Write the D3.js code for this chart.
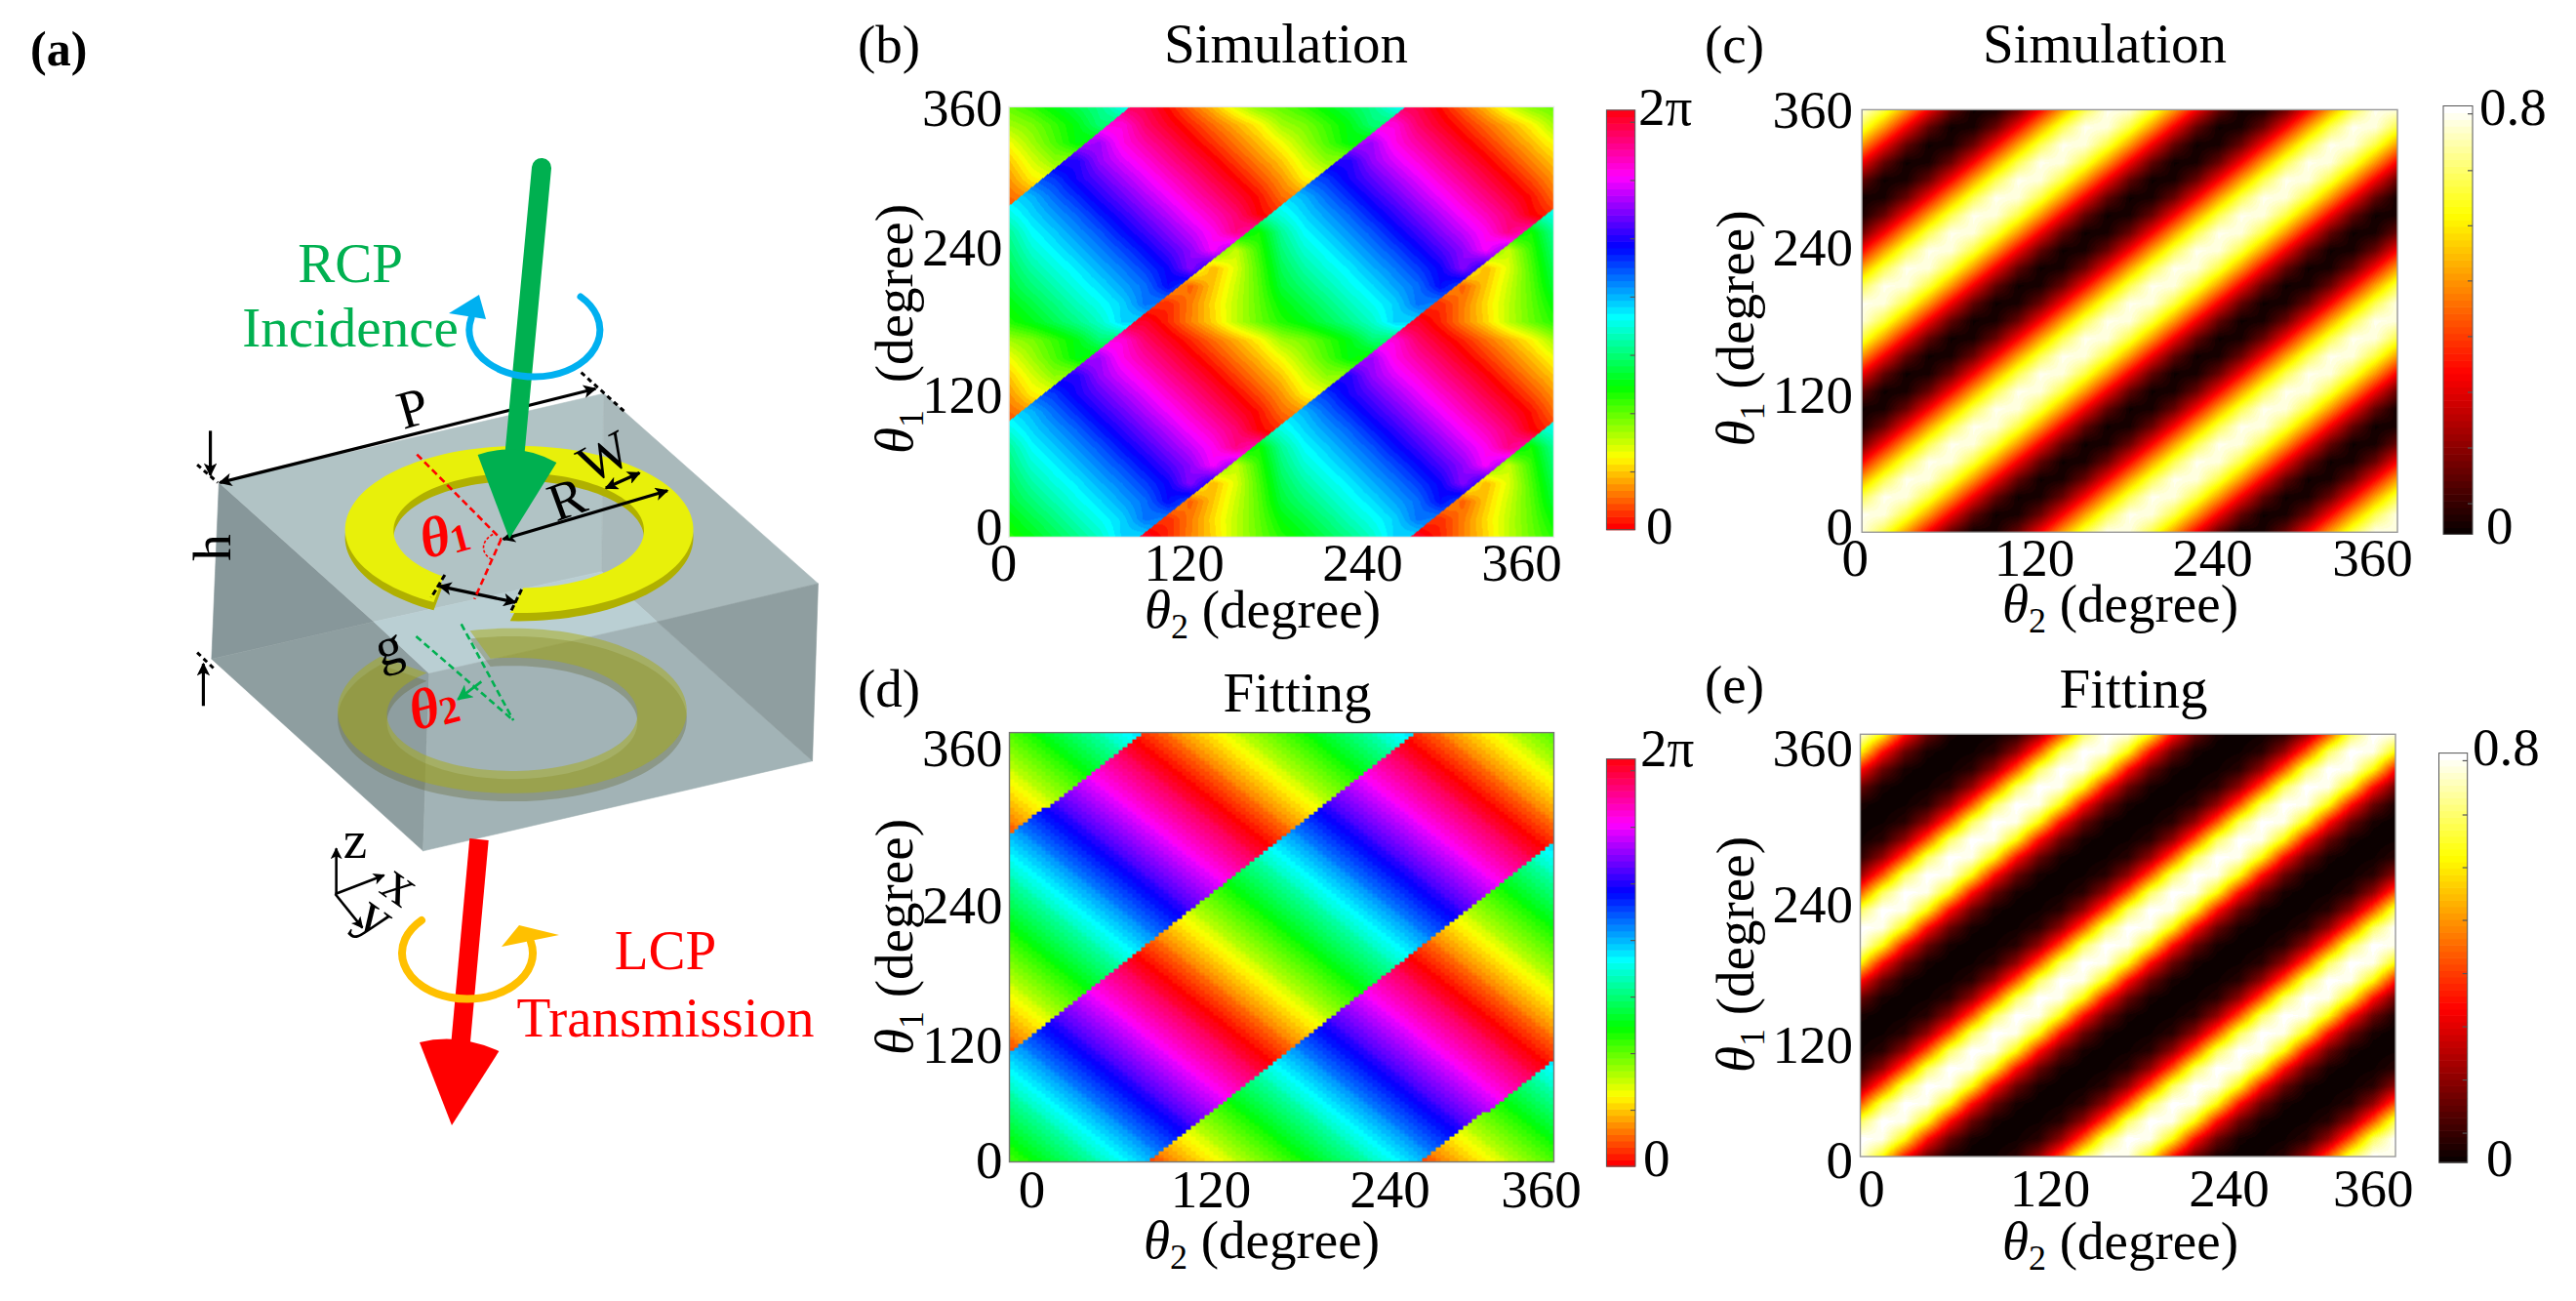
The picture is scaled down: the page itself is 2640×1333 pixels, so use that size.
<!DOCTYPE html>
<html><head><meta charset="utf-8">
<script src="https://cdn.jsdelivr.net/npm/d3@7/dist/d3.min.js"></script>
<style>html,body{margin:0;padding:0;background:#fff}svg{display:block}</style></head>
<body><svg id="fig" width="2640" height="1333"></svg>
<script>
// ---------- values ----------
const tickLabels=[0,120,240,360];
const gridStep=15; // degrees between rows / columns of every table below
// (b) simulated phase, degrees; rows theta1 = 0..360, columns theta2 = 0..360
const phaseSim=[
[115,127,141,155,170,193,352,11,33,53,78,98,115,127,141,155,170,193,352,11,33,53,78,98,115],
[124,138,152,167,180,193,216,12,32,55,78,100,124,138,152,167,180,193,216,12,32,55,78,100,124],
[135,150,164,178,190,204,217,242,25,50,75,102,135,150,164,178,190,204,217,242,25,50,75,102,135],
[142,161,175,187,201,214,229,245,275,45,70,105,142,161,175,187,201,214,229,245,275,45,70,105,142],
[150,172,185,198,212,226,242,259,276,302,75,110,150,172,185,198,212,226,242,259,276,302,75,110,150],
[158,182,195,209,223,240,256,273,289,306,332,118,158,182,195,209,223,240,256,273,289,306,332,118,158],
[176,192,206,220,237,253,270,286,303,319,336,2,176,192,206,220,237,253,270,286,303,319,336,2,176],
[28,200,218,234,251,267,284,300,317,333,350,6,28,200,218,234,251,267,284,300,317,333,350,6,28],
[38,60,230,248,264,281,297,314,330,347,3,20,38,60,230,248,264,281,297,314,330,347,3,20,38],
[50,72,90,250,278,295,311,328,344,0,17,34,50,72,90,250,278,295,311,328,344,0,17,34,50],
[65,85,105,125,280,308,325,341,358,14,31,47,65,85,105,125,280,308,325,341,358,14,31,47,65],
[85,94,110,127,150,310,338,355,11,28,44,61,85,94,110,127,150,310,338,355,11,28,44,61,85],
[115,127,141,155,170,193,352,11,33,53,78,98,115,127,141,155,170,193,352,11,33,53,78,98,115],
[124,138,152,167,180,193,216,12,32,55,78,100,124,138,152,167,180,193,216,12,32,55,78,100,124],
[135,150,164,178,190,204,217,242,25,50,75,102,135,150,164,178,190,204,217,242,25,50,75,102,135],
[142,161,175,187,201,214,229,245,275,45,70,105,142,161,175,187,201,214,229,245,275,45,70,105,142],
[150,172,185,198,212,226,242,259,276,302,75,110,150,172,185,198,212,226,242,259,276,302,75,110,150],
[158,182,195,209,223,240,256,273,289,306,332,118,158,182,195,209,223,240,256,273,289,306,332,118,158],
[176,192,206,220,237,253,270,286,303,319,336,2,176,192,206,220,237,253,270,286,303,319,336,2,176],
[28,200,218,234,251,267,284,300,317,333,350,6,28,200,218,234,251,267,284,300,317,333,350,6,28],
[38,60,230,248,264,281,297,314,330,347,3,20,38,60,230,248,264,281,297,314,330,347,3,20,38],
[50,72,90,250,278,295,311,328,344,0,17,34,50,72,90,250,278,295,311,328,344,0,17,34,50],
[65,85,105,125,280,308,325,341,358,14,31,47,65,85,105,125,280,308,325,341,358,14,31,47,65],
[85,94,110,127,150,310,338,355,11,28,44,61,85,94,110,127,150,310,338,355,11,28,44,61,85],
[100,112,126,140,155,178,345,5,27,47,72,92,100,112,126,140,155,178,345,5,27,47,72,92,100]];
// phase-jump lines of (b): [theta2, theta1] end points
const jumpsSim=[[[265,0],[360,97]],[[86,0],[360,275]],[[0,97],[262,360]],[[0,277],[80,360]]];
const jumpSizeSim=198;
// (c) simulated transmission, percent
const transSim=[
[77,65,48,29,11,1,2,12,30,49,66,78,77,65,48,29,11,1,2,12,30,49,66,78,77],
[78,77,65,48,29,11,1,2,12,30,49,66,78,77,65,48,29,11,1,2,12,30,49,66,78],
[66,78,77,65,48,29,11,1,2,12,30,49,66,78,77,65,48,29,11,1,2,12,30,49,66],
[49,66,78,77,65,48,29,11,1,2,12,30,49,66,78,77,65,48,29,11,1,2,12,30,49],
[30,49,66,78,77,65,48,29,11,1,2,12,30,49,66,78,77,65,48,29,11,1,2,12,30],
[12,30,49,66,78,77,65,48,29,11,1,2,12,30,49,66,78,77,65,48,29,11,1,2,12],
[2,12,30,49,66,78,77,65,48,29,11,1,2,12,30,49,66,78,77,65,48,29,11,1,2],
[1,2,12,30,49,66,78,77,65,48,29,11,1,2,12,30,49,66,78,77,65,48,29,11,1],
[11,1,2,12,30,49,66,78,77,65,48,29,11,1,2,12,30,49,66,78,77,65,48,29,11],
[29,11,1,2,12,30,49,66,78,77,65,48,29,11,1,2,12,30,49,66,78,77,65,48,29],
[48,29,11,1,2,12,30,49,66,78,77,65,48,29,11,1,2,12,30,49,66,78,77,65,48],
[65,48,29,11,1,2,12,30,49,66,78,77,65,48,29,11,1,2,12,30,49,66,78,77,65],
[77,65,48,29,11,1,2,12,30,49,66,78,77,65,48,29,11,1,2,12,30,49,66,78,77],
[78,77,65,48,29,11,1,2,12,30,49,66,78,77,65,48,29,11,1,2,12,30,49,66,78],
[66,78,77,65,48,29,11,1,2,12,30,49,66,78,77,65,48,29,11,1,2,12,30,49,66],
[49,66,78,77,65,48,29,11,1,2,12,30,49,66,78,77,65,48,29,11,1,2,12,30,49],
[30,49,66,78,77,65,48,29,11,1,2,12,30,49,66,78,77,65,48,29,11,1,2,12,30],
[12,30,49,66,78,77,65,48,29,11,1,2,12,30,49,66,78,77,65,48,29,11,1,2,12],
[2,12,30,49,66,78,77,65,48,29,11,1,2,12,30,49,66,78,77,65,48,29,11,1,2],
[1,2,12,30,49,66,78,77,65,48,29,11,1,2,12,30,49,66,78,77,65,48,29,11,1],
[11,1,2,12,30,49,66,78,77,65,48,29,11,1,2,12,30,49,66,78,77,65,48,29,11],
[29,11,1,2,12,30,49,66,78,77,65,48,29,11,1,2,12,30,49,66,78,77,65,48,29],
[48,29,11,1,2,12,30,49,66,78,77,65,48,29,11,1,2,12,30,49,66,78,77,65,48],
[65,48,29,11,1,2,12,30,49,66,78,77,65,48,29,11,1,2,12,30,49,66,78,77,65],
[77,65,48,29,11,1,2,12,30,49,66,78,77,65,48,29,11,1,2,12,30,49,66,78,77]];
// (d) fitted phase, degrees
const phaseFit=[
[106,121,136,151,166,181,196,31,46,61,76,91,106,121,136,151,166,181,196,31,46,61,76,91,106],
[121,136,151,166,181,196,211,226,61,76,91,106,121,136,151,166,181,196,211,226,61,76,91,106,121],
[136,151,166,181,196,211,226,241,256,91,106,121,136,151,166,181,196,211,226,241,256,91,106,121,136],
[151,166,181,196,211,226,241,256,271,286,121,136,151,166,181,196,211,226,241,256,271,286,121,136,151],
[166,181,196,211,226,241,256,271,286,301,316,151,166,181,196,211,226,241,256,271,286,301,316,151,166],
[181,196,211,226,241,256,271,286,301,316,331,346,181,196,211,226,241,256,271,286,301,316,331,346,181],
[196,211,226,241,256,271,286,301,316,331,346,1,16,211,226,241,256,271,286,301,316,331,346,1,16],
[31,226,241,256,271,286,301,316,331,346,1,16,31,46,241,256,271,286,301,316,331,346,1,16,31],
[46,61,256,271,286,301,316,331,346,1,16,31,46,61,76,271,286,301,316,331,346,1,16,31,46],
[61,76,91,286,301,316,331,346,1,16,31,46,61,76,91,106,301,316,331,346,1,16,31,46,61],
[76,91,106,121,316,331,346,1,16,31,46,61,76,91,106,121,136,331,346,1,16,31,46,61,76],
[91,106,121,136,151,346,1,16,31,46,61,76,91,106,121,136,151,166,1,16,31,46,61,76,91],
[106,121,136,151,166,181,16,31,46,61,76,91,106,121,136,151,166,181,196,31,46,61,76,91,106],
[121,136,151,166,181,196,211,46,61,76,91,106,121,136,151,166,181,196,211,226,61,76,91,106,121],
[136,151,166,181,196,211,226,241,76,91,106,121,136,151,166,181,196,211,226,241,256,91,106,121,136],
[151,166,181,196,211,226,241,256,271,106,121,136,151,166,181,196,211,226,241,256,271,286,121,136,151],
[166,181,196,211,226,241,256,271,286,301,136,151,166,181,196,211,226,241,256,271,286,301,316,151,166],
[181,196,211,226,241,256,271,286,301,316,331,166,181,196,211,226,241,256,271,286,301,316,331,346,181],
[196,211,226,241,256,271,286,301,316,331,346,1,196,211,226,241,256,271,286,301,316,331,346,1,16],
[31,226,241,256,271,286,301,316,331,346,1,16,31,226,241,256,271,286,301,316,331,346,1,16,31],
[46,61,256,271,286,301,316,331,346,1,16,31,46,61,256,271,286,301,316,331,346,1,16,31,46],
[61,76,91,286,301,316,331,346,1,16,31,46,61,76,91,286,301,316,331,346,1,16,31,46,61],
[76,91,106,121,316,331,346,1,16,31,46,61,76,91,106,121,316,331,346,1,16,31,46,61,76],
[91,106,121,136,151,346,1,16,31,46,61,76,91,106,121,136,151,346,1,16,31,46,61,76,91],
[106,121,136,151,166,181,16,31,46,61,76,91,106,121,136,151,166,181,16,31,46,61,76,91,106]];
const jumpsFit=[[[272,0],[360,86]],[[91,0],[360,269]],[[0,92],[270,360]],[[0,274],[90,360]]];
const jumpSizeFit=180;
// (e) fitted transmission, percent
const transFit=[
[78,60,32,12,2,0,1,4,17,40,67,80,78,60,32,12,2,0,1,4,17,40,67,80,78],
[80,78,60,32,12,2,0,1,4,17,40,67,80,78,60,32,12,2,0,1,4,17,40,67,80],
[67,80,78,60,32,12,2,0,1,4,17,40,67,80,78,60,32,12,2,0,1,4,17,40,67],
[40,67,80,78,60,32,12,2,0,1,4,17,40,67,80,78,60,32,12,2,0,1,4,17,40],
[17,40,67,80,78,60,32,12,2,0,1,4,17,40,67,80,78,60,32,12,2,0,1,4,17],
[4,17,40,67,80,78,60,32,12,2,0,1,4,17,40,67,80,78,60,32,12,2,0,1,4],
[1,4,17,40,67,80,78,60,32,12,2,0,1,4,17,40,67,80,78,60,32,12,2,0,1],
[0,1,4,17,40,67,80,78,60,32,12,2,0,1,4,17,40,67,80,78,60,32,12,2,0],
[2,0,1,4,17,40,67,80,78,60,32,12,2,0,1,4,17,40,67,80,78,60,32,12,2],
[12,2,0,1,4,17,40,67,80,78,60,32,12,2,0,1,4,17,40,67,80,78,60,32,12],
[32,12,2,0,1,4,17,40,67,80,78,60,32,12,2,0,1,4,17,40,67,80,78,60,32],
[60,32,12,2,0,1,4,17,40,67,80,78,60,32,12,2,0,1,4,17,40,67,80,78,60],
[78,60,32,12,2,0,1,4,17,40,67,80,78,60,32,12,2,0,1,4,17,40,67,80,78],
[80,78,60,32,12,2,0,1,4,17,40,67,80,78,60,32,12,2,0,1,4,17,40,67,80],
[67,80,78,60,32,12,2,0,1,4,17,40,67,80,78,60,32,12,2,0,1,4,17,40,67],
[40,67,80,78,60,32,12,2,0,1,4,17,40,67,80,78,60,32,12,2,0,1,4,17,40],
[17,40,67,80,78,60,32,12,2,0,1,4,17,40,67,80,78,60,32,12,2,0,1,4,17],
[4,17,40,67,80,78,60,32,12,2,0,1,4,17,40,67,80,78,60,32,12,2,0,1,4],
[1,4,17,40,67,80,78,60,32,12,2,0,1,4,17,40,67,80,78,60,32,12,2,0,1],
[0,1,4,17,40,67,80,78,60,32,12,2,0,1,4,17,40,67,80,78,60,32,12,2,0],
[2,0,1,4,17,40,67,80,78,60,32,12,2,0,1,4,17,40,67,80,78,60,32,12,2],
[12,2,0,1,4,17,40,67,80,78,60,32,12,2,0,1,4,17,40,67,80,78,60,32,12],
[32,12,2,0,1,4,17,40,67,80,78,60,32,12,2,0,1,4,17,40,67,80,78,60,32],
[60,32,12,2,0,1,4,17,40,67,80,78,60,32,12,2,0,1,4,17,40,67,80,78,60],
[78,60,32,12,2,0,1,4,17,40,67,80,78,60,32,12,2,0,1,4,17,40,67,80,78]];
const phaseBarTicks=[50,100,150,200,250,300,350];
const transBarTicks=[5.8,16.2,26.6,37,47.4,57.7,68,78.6];
const hsvStops=["#ff0000","#ffff00","#00ff00","#00ffff","#0000ff","#ff00ff","#ff0018"];
const hotStops=["#0b0000","#ff0000","#ffff00","#ffffff"];
const LEVELS=64;

const phaseLUT=d3.range(LEVELS).map(d3.scaleLinear().domain([0,LEVELS/6,2*LEVELS/6,3*LEVELS/6,4*LEVELS/6,5*LEVELS/6,LEVELS-1]).range(hsvStops)).map(c=>d3.rgb(c));
const hotLUT=d3.range(LEVELS).map(d3.scaleLinear().domain([0,.375*(LEVELS-1),.75*(LEVELS-1),LEVELS-1]).range(hotStops)).map(c=>d3.rgb(c));
const phaseColor=d3.scaleQuantize().domain([0,360]).range(phaseLUT);
const hotColor=d3.scaleQuantize().domain([0,80]).range(hotLUT);

const svg=d3.select("#fig");
const SERIF="'Liberation Serif','Times New Roman',serif";
const FS=55;

function label(g,x,y,str,o={}){
  return g.append("text").attr("x",x).attr("y",y).attr("font-family",SERIF).attr("font-size",o.size||FS)
    .attr("text-anchor",o.anchor||"start").attr("fill",o.fill||"#000").attr("font-weight",o.weight||"normal").text(str);
}
function thetaLabel(g,x,y,sub,rot,gap){
  const t=g.append("text").attr("font-family",SERIF).attr("font-size",FS).attr("text-anchor","middle")
    .attr("transform",`translate(${x},${y})`+(rot?` rotate(${rot})`:""));
  t.append("tspan").attr("font-style","italic").text("\u03b8");
  t.append("tspan").attr("font-size",36).attr("dy",11).text(sub);
  t.append("tspan").attr("dy",-11).attr("dx",gap||0).text(" (degree)");
}

// Paint one table through the panel scales.  Each pixel is shaded from the four surrounding table entries.
function paint(p){
  const W=Math.round(p.x[1]-p.x[0]),H=Math.round(p.y[0]-p.y[1]);
  const cv=document.createElement("canvas");cv.width=W;cv.height=H;
  const ctx=cv.getContext("2d"),img=ctx.createImageData(W,H);
  const sx=d3.scaleLinear().domain([0,W]).range([0,360]),sy=d3.scaleLinear().domain([H,0]).range([0,360]);
  const lines=(p.jumps||[]).map(l=>d3.scaleLinear().domain([l[0][0],l[1][0]]).range([l[0][1],l[1][1]]));
  const strip=(a,b)=>lines.reduce((n,f)=>n+(b>f(a)?1:0),0);
  const n=p.table.length-1;
  for(let py=0;py<H;py++)for(let px=0;px<W;px++){
    let a=sx(px+.5),b=sy(py+.5);
    if(p.cell){a=(Math.floor(a/p.cell)+.5)*p.cell;b=(Math.floor(b/p.cell)+.5)*p.cell;}
    const fi=Math.min(n-1e-6,a/gridStep),fj=Math.min(n-1e-6,b/gridStep);
    const i=Math.floor(fi),j=Math.floor(fj),u=fi-i,v=fj-j;
    let c;
    if(p.jumps){
      const k=strip(a,b);
      const val=(ii,jj)=>p.table[jj][ii]+(k-strip(ii*gridStep,jj*gridStep))*p.jump;
      const v0=val(i,j),rel=q=>((q-v0)%360+540)%360-180;
      const r=(1-u)*v*rel(val(i,j+1))+u*(1-v)*rel(val(i+1,j))+u*v*rel(val(i+1,j+1));
      c=phaseColor(((v0+r)%360+360)%360);
    }else{
      const t=p.table;
      c=hotColor((1-u)*(1-v)*t[j][i]+u*(1-v)*t[j][i+1]+(1-u)*v*t[j+1][i]+u*v*t[j+1][i+1]);
    }
    const o=4*(py*W+px);img.data[o]=c.r;img.data[o+1]=c.g;img.data[o+2]=c.b;img.data[o+3]=255;
  }
  ctx.putImageData(img,0,0);
  return cv.toDataURL();
}

const panels=[
 {id:"(b)",lx:879,ly:64,title:"Simulation",tx:1318,ty:64,table:phaseSim,jumps:jumpsSim,jump:jumpSizeSim,
  x:[1034,1592.5],y:[550.4,109.4],xl:[1028,1213,1396,1559],xb:595,yr:1027.6,yb:[557,422,271,128],
  xlab:[1294,643],ylab:[934.6,337],ygap:14,cb:{x:[1646.4,1675.7],y:[542.7,112.8],top:"2\u03c0",tl:[1679,128],bl:[1687,557]},border:"#e8e8e8"},
 {id:"(c)",lx:1747,ly:64,title:"Simulation",tx:2157,ty:64,table:transSim,
  x:[1908.2,2457],y:[545.3,112.4],xl:[1900.7,2084.4,2267,2431],xb:590,yr:1899,yb:[557,422,271,130],
  xlab:[2173,637],ylab:[1797,336.5],cb:{x:[2504,2534],y:[547.4,108.5],top:"0.8",tl:[2541,128],bl:[2548,557]},border:"#999"},
 {id:"(d)",lx:879,ly:724,title:"Fitting",tx:1329.6,ty:728.7,table:phaseFit,jumps:jumpsFit,jump:jumpSizeFit,cell:3,
  x:[1034.5,1592.5],y:[1190.5,750.6],xl:[1057,1240.6,1424,1579],xb:1237,yr:1027.6,yb:[1206,1088,945,784],
  xlab:[1293,1289],ylab:[934.6,960],cb:{x:[1646.4,1676],y:[1195,777.6],top:"2\u03c0",tl:[1681,784.5],bl:[1684,1205]},border:"#777"},
 {id:"(e)",lx:1747,ly:720,title:"Fitting",tx:2186.6,ty:725,table:transFit,
  x:[1906.5,2455],y:[1185,752.3],xl:[1917.4,2100.5,2284,2431.7],xb:1236,yr:1899,yb:[1206,1088,944,784],
  xlab:[2173,1290],ylab:[1797,978],cb:{x:[2499.5,2528.7],y:[1191,771.6],top:"0.8",tl:[2534,783.6],bl:[2548,1205]},border:"#999"}
];

panels.forEach(p=>{
  const g=svg.append("g");
  const x=d3.scaleLinear().domain([0,360]).range(p.x),y=d3.scaleLinear().domain([0,360]).range(p.y);
  g.append("image").attr("x",p.x[0]).attr("y",p.y[1]).attr("width",p.x[1]-p.x[0]).attr("height",p.y[0]-p.y[1])
    .attr("preserveAspectRatio","none").attr("href",paint(p));
  g.append("rect").attr("x",p.x[0]).attr("y",p.y[1]).attr("width",p.x[1]-p.x[0]).attr("height",p.y[0]-p.y[1])
    .attr("fill","none").attr("stroke",p.border).attr("stroke-width",1.4);
  // axes
  const ax=g.append("g").attr("transform",`translate(0,${p.y[0]})`)
    .call(d3.axisBottom(x).tickValues(tickLabels).tickSize(0).tickFormat(d3.format("d")));
  const ay=g.append("g").attr("transform",`translate(${p.x[0]},0)`)
    .call(d3.axisLeft(y).tickValues(tickLabels).tickSize(0).tickFormat(d3.format("d")));
  [ax,ay].forEach(a=>{a.select(".domain").remove();a.attr("font-family",SERIF).attr("font-size",FS);a.selectAll("text").attr("fill","#000").attr("dy",0);});
  ax.selectAll("text").attr("y",p.xb-p.y[0]).attr("x",(d,i)=>p.xl[i]-x(d));
  ay.selectAll("text").attr("x",p.yr-p.x[0]).attr("y",(d,i)=>p.yb[i]-y(d));
  // titles
  label(g,p.lx,p.ly,p.id);
  label(g,p.tx,p.ty,p.title,{anchor:"middle",size:57});
  thetaLabel(g,p.xlab[0],p.xlab[1],"2",0);
  thetaLabel(g,p.ylab[0],p.ylab[1],"1",-90,p.ygap);
  // colour bar
  const isPhase=!!p.jumps,cb=p.cb,dom=isPhase?360:80,lut=isPhase?phaseColor:hotColor;
  const by=d3.scaleLinear().domain([0,dom]).range(cb.y);
  g.append("g").selectAll("rect").data(d3.range(LEVELS)).join("rect")
    .attr("x",cb.x[0]).attr("width",cb.x[1]-cb.x[0])
    .attr("y",d=>by((d+1)*dom/LEVELS)).attr("height",(cb.y[0]-cb.y[1])/LEVELS+.6)
    .attr("fill",d=>lut((d+.5)*dom/LEVELS).formatRgb());
  g.append("rect").attr("x",cb.x[0]).attr("y",cb.y[1]).attr("width",cb.x[1]-cb.x[0]).attr("height",cb.y[0]-cb.y[1])
    .attr("fill","none").attr("stroke","#555").attr("stroke-width",1);
  const bt=g.append("g").attr("transform",`translate(${cb.x[1]},0)`)
    .call(d3.axisLeft(by).tickValues(isPhase?phaseBarTicks:transBarTicks).tickSize(5).tickFormat(""));
  bt.select(".domain").remove();bt.selectAll("line").attr("stroke","#555").attr("stroke-width",1.2);
  label(g,cb.tl[0],cb.tl[1],cb.top);
  label(g,cb.bl[0],cb.bl[1],"0");
});

// ---------- panel (a): schematic ----------
const A=svg.append("g");
const PX=d3.scaleLinear().domain([0,2376]).range([200,1200]),PY=d3.scaleLinear().domain([0,3015]).range([380,1380]);
const pt=d=>[PX(d[0]),PY(d[1])];
const line=d3.line();
label(A,31,67,"(a)",{weight:"bold",size:50});
const faces=[
 {c:"#87979a",p:[[58,345],[435,775],[40,890]]},
 {c:"#8e9ea0",p:[[40,890],[435,775],[570,935],[555,1483]]},
 {c:"#b1c3c5",p:[[58,345],[995,70],[990,620],[435,775]]},
 {c:"#a9b9bb",p:[[995,70],[1517,657],[1125,775],[990,620]]},
 {c:"#bacfd3",p:[[435,775],[990,620],[1125,775],[570,935]]},
 {c:"#a2b3b6",p:[[570,935],[1125,775],[1503,1205],[555,1483]]},
 {c:"#8f9ea0",p:[[1125,775],[1517,657],[1503,1205]]}];
A.selectAll(".face").data(faces).join("path").attr("class","face").attr("fill",d=>d.c)
  .attr("stroke",d=>d.c).attr("stroke-width",.6).attr("d",d=>line(d.p.map(pt))+"Z");
function ring(o,i,tA,tB,tC,tD,dy){
  const N=120,pts=[];
  d3.range(N+1).forEach(k=>{const t=(tA+(tB-tA)*k/N)*Math.PI/180;pts.push(pt([o[0]+o[2]*Math.cos(t),o[1]+dy+o[3]*Math.sin(t)]));});
  d3.range(N+1).forEach(k=>{const t=(tC+(tD-tC)*k/N)*Math.PI/180;pts.push(pt([i[0]+i[2]*Math.cos(t),i[1]+dy+i[3]*Math.sin(t)]));});
  return line(pts)+"Z";
}
// lower ring
const lo=[772,1050,425,255],li=[772,1061,305,175];
A.append("path").attr("d",ring(lo,li,-104,221,227,-100,25)).attr("fill","rgba(90,90,30,.3)");
A.append("path").attr("d",ring(lo,li,-104,221,227,-100,0)).attr("fill","rgba(168,172,20,.5)");
// upper ring
const uo=[789,490,424,258],ui=[788,493,305,178];
A.append("path").attr("d",ring(uo,ui,93,-240.6,-233,88,25)).attr("fill","#b0b000");
A.append("path").attr("d",ring(uo,ui,93,-240.6,-233,88,0)).attr("fill","#e8f00a");
// dimension arrows
const defs=svg.append("defs");
const mk=(id,c,s)=>defs.append("marker").attr("id",id).attr("viewBox","0 0 10 10").attr("refX",9).attr("refY",5)
  .attr("markerUnits","userSpaceOnUse").attr("markerWidth",s).attr("markerHeight",s*.8).attr("orient","auto-start-reverse")
  .append("path").attr("d","M0,0L10,5L0,10L2.5,5Z").attr("fill",c);
mk("ab","#000",17);mk("ag","#00b050",20);
const arrows=[[[60,345],[975,55],1],[[750,520],[1150,370],1],[[1000,362],[1082,315],1],[[595,665],[780,715],1],[[37,185],[37,322],0],[[20,1035],[20,905],0]];
arrows.forEach(d=>{A.append("path").attr("d",line([pt(d[0]),pt(d[1])])).attr("stroke","#000").attr("stroke-width",3.2).attr("fill","none")
  .attr("marker-end","url(#ab)").attr("marker-start",d[2]?"url(#ab)":null);});
const dashes=[
 {p:[[5,290],[55,345]],c:"#000",w:3,a:"5,4"},{p:[[940,5],[1045,125]],c:"#000",w:3,a:"5,4"},{p:[[5,870],[50,925]],c:"#000",w:3,a:"5,4"},
 {p:[[608,630],[575,700]],c:"#000",w:3,a:"6,3"},{p:[[795,675],[768,745]],c:"#000",w:3,a:"6,3"},
 {p:[[540,258],[745,520]],c:"#ff0000",w:2.6,a:"7,4"},{p:[[745,520],[680,705]],c:"#ff0000",w:2.6,a:"7,4"},
 {p:[[538,820],[775,1080]],c:"#00b050",w:2.6,a:"7,4"},{p:[[648,782],[775,1080]],c:"#00b050",w:2.6,a:"7,4"}];
dashes.forEach(d=>A.append("path").attr("d",line(d.p.map(pt))).attr("stroke",d.c).attr("stroke-width",d.w).attr("stroke-dasharray",d.a).attr("fill","none"));
A.append("path").attr("d","M"+pt([725,505])+"C"+pt([695,525])+" "+pt([695,565])+" "+pt([722,582])).attr("fill","none").attr("stroke","#ff0000").attr("stroke-width",1.6).attr("stroke-dasharray","3,2");
A.append("path").attr("d",line([pt([697,960]),pt([640,1015])])).attr("stroke","#00b050").attr("stroke-width",2.6).attr("marker-end","url(#ag)");
// incident arrow
A.append("path").attr("d","M555,172L527,470").attr("stroke","#00b050").attr("stroke-width",20).attr("stroke-linecap","round").attr("fill","none");
A.append("path").attr("d","M489.6,466Q530,452 570.4,474L522,552Z").attr("fill","#00b050");
// transmitted arrow
A.append("path").attr("d","M491,860L472,1070").attr("stroke","#ff0000").attr("stroke-width",19.5).attr("fill","none");
A.append("path").attr("d","M430,1068Q470,1058 511.4,1077L463,1153Z").attr("fill","#ff0000");
// polarisation curls
A.append("path").attr("d","M595,304A67,48 0 1 1 483,326").attr("fill","none").attr("stroke","#00b0f0").attr("stroke-width",7).attr("stroke-linecap","round");
A.append("path").attr("d","M460,321L491,302L498,327Z").attr("fill","#00b0f0");
A.append("path").attr("d","M432,943A67,47 0 1 0 544,965").attr("fill","none").attr("stroke","#ffc000").attr("stroke-width",8).attr("stroke-linecap","round");
A.append("path").attr("d","M532,948L573,958L514,970Z").attr("fill","#ffc000");
// text of the schematic
label(A,359,289,"RCP",{anchor:"middle",fill:"#00b050",size:57});
label(A,359,355,"Incidence",{anchor:"middle",fill:"#00b050",size:57});
label(A,682,993,"LCP",{anchor:"middle",fill:"#ff0000",size:57});
label(A,682,1062,"Transmission",{anchor:"middle",fill:"#ff0000",size:57});
const rotText=(s,x,y,r,o={})=>label(A,0,0,s,Object.assign({anchor:"middle"},o)).attr("transform",`translate(${x},${y}) rotate(${r})`).attr("dominant-baseline","central");
rotText("P",423,418,-16);rotText("R",581,511,-20);rotText("W",619,468,-28);rotText("h",217,561,-90);rotText("g",398,662,-15);
rotText("z",364,860,0);rotText("x",411,906,35,{size:60});rotText("y",386,938,35,{size:60});
const redTheta=(x,y,r,sub)=>{const t=A.append("text").attr("font-family",SERIF).attr("font-size",58).attr("font-weight","bold").attr("fill","#ff0000")
  .attr("text-anchor","middle").attr("dominant-baseline","central").attr("transform",`translate(${x},${y}) rotate(${r})`);
  t.append("tspan").attr("font-style","italic").text("\u03b8");t.append("tspan").attr("font-size",40).attr("dy",8).text(sub);};
redTheta(455,547,-15,"1");redTheta(444,723,-15,"2");
// axes triad
const triad=[[[125,288],[125,148]],[[122,288],[262,230]],[[122,288],[200,392]]];
const TX=d3.scaleLinear().domain([0,2800]).range([300,1300]),TY=d3.scaleLinear().domain([0,3000]).range([820,1820]);
mk("at","#000",15);
triad.forEach(d=>A.append("path").attr("d",line(d.map(q=>[TX(q[0]),TY(q[1])]))).attr("stroke","#000").attr("stroke-width",2.6).attr("marker-end","url(#at)"));
</script></body></html>
